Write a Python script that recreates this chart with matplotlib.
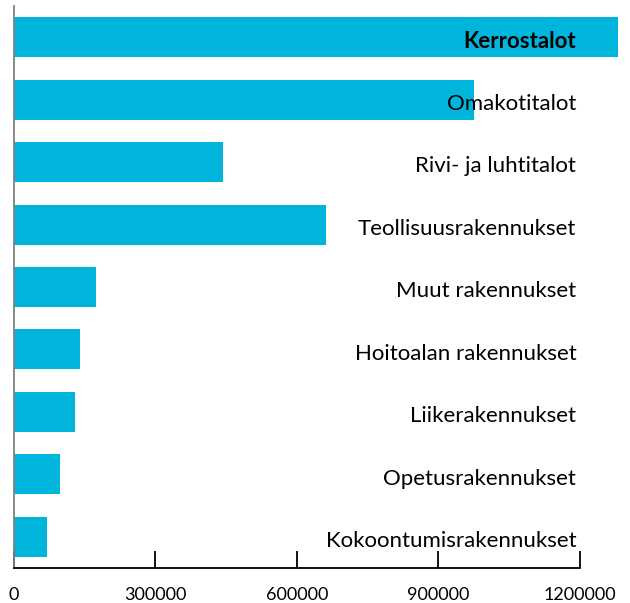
import numpy as np
import matplotlib.pyplot as plt

categories = ["Kerrostalot", "Omakotitalot", "Rivi- ja luhtitalot", "Teollisuusrakennukset",
              "Muut rakennukset", "Hoitoalan rakennukset", "Liikerakennukset",
              "Opetusrakennukset", "Kokoontumisrakennukset"]
values = [1282000, 977000, 444000, 662000, 174000, 140000, 129000, 97000, 70000]
xticks = [0, 300000, 600000, 900000, 1200000]

plt.rcParams['font.family'] = ['Lato', 'DejaVu Sans']

fig = plt.figure(figsize=(6.3, 6.03), dpi=100)
ax = fig.add_axes([14/630, 35/603, 565.6/630, 562/603])

ind = np.arange(len(categories))
bars = ax.barh(ind, values, height=0.64, color='#00B5DC', clip_on=False)

ax.set_ylim(len(categories) - 0.5, -0.5)
ax.set_xlim(0, 1200000)

# labels right aligned near the end of the axis
for i, name in enumerate(categories):
    ax.text(1193000, i + 0.07, name, ha='right', va='center', fontsize=16,
            fontweight='bold' if i == 0 else 'normal', color='black')

for side in ['top', 'right']:
    ax.spines[side].set_visible(False)
ax.spines['left'].set_color('#808080')
ax.spines['left'].set_linewidth(1.3)
ax.spines['bottom'].set_color('black')
ax.spines['bottom'].set_linewidth(1.3)
ax.spines['bottom'].set_bounds(0, 1200000)

ax.set_yticks([])
ax.set_xticks(xticks)
ax.set_xticklabels([str(t) for t in xticks], fontsize=13)
ax.tick_params(axis='x', direction='in', length=12, width=1.3, pad=14)

plt.savefig("out.png", dpi=100)
